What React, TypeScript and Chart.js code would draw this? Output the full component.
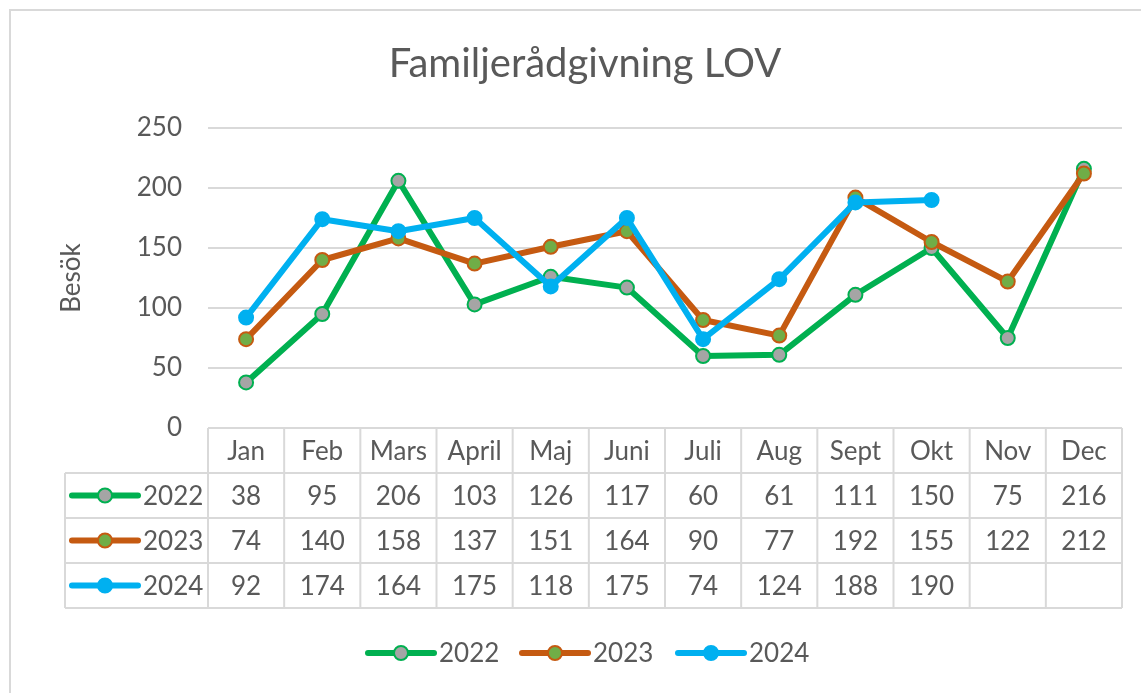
import React, { useEffect, useRef } from "react";
import { Chart, registerables } from "chart.js";

Chart.register(...registerables);

const months = ["Jan", "Feb", "Mars", "April", "Maj", "Juni", "Juli", "Aug", "Sept", "Okt", "Nov", "Dec"];
const seriesNames = ["2022", "2023", "2024"];
const values2022 = [38, 95, 206, 103, 126, 117, 60, 61, 111, 150, 75, 216];
const values2023 = [74, 140, 158, 137, 151, 164, 90, 77, 192, 155, 122, 212];
const values2024: (number | null)[] = [92, 174, 164, 175, 118, 175, 74, 124, 188, 190, null, null];
const yTickMin = 0;
const yTickMax = 250;
const yTickStep = 50;
const chartTitle = "Familjerådgivning LOV";
const yAxisTitle = "Besök";

const FONT = "Lato, 'Open Sans', 'Noto Sans', sans-serif";
const TEXT = "#595959";
const GRID = "#d9d9d9";
const lineColors = ["#00B050", "#C55A11", "#00B0F0"];
const markerFills = ["#A5A5A5", "#70AD47", "#00B0F0"];
const allValues = [values2022, values2023, values2024];

const ROW_H = 45;
const TABLE_LEFT = 65;

function drawKey(ctx: CanvasRenderingContext2D, x0: number, y: number, i: number) {
  ctx.save();
  ctx.strokeStyle = lineColors[i];
  ctx.lineWidth = 6;
  ctx.lineCap = "round";
  ctx.beginPath();
  ctx.moveTo(x0, y);
  ctx.lineTo(x0 + 66, y);
  ctx.stroke();
  ctx.beginPath();
  ctx.arc(x0 + 33, y, 7, 0, Math.PI * 2);
  ctx.fillStyle = markerFills[i];
  ctx.fill();
  ctx.lineWidth = 2;
  ctx.strokeStyle = lineColors[i];
  ctx.stroke();
  ctx.restore();
}

const tablePlugin = {
  id: "tablePlugin",
  afterDraw(chart: any) {
    const ctx: CanvasRenderingContext2D = chart.ctx;
    const area = chart.chartArea;
    const xs = chart.scales.x;
    const colW = xs.getPixelForValue(1) - xs.getPixelForValue(0);
    ctx.save();
    // outer border
    ctx.strokeStyle = GRID;
    ctx.lineWidth = 2;
    ctx.beginPath();
    ctx.moveTo(10, 2000);
    ctx.lineTo(10, 10);
    ctx.lineTo(2000, 10);
    ctx.stroke();

    // title
    ctx.fillStyle = TEXT;
    ctx.font = `40px ${FONT}`;
    ctx.textAlign = "center";
    ctx.textBaseline = "middle";
    ctx.fillText(chartTitle, 585, 64);

    // table lines
    const top = area.bottom;
    const left = area.left;
    const right = area.right;
    ctx.strokeStyle = GRID;
    ctx.lineWidth = 2;
    ctx.beginPath();
    ctx.moveTo(left, top);
    ctx.lineTo(right, top);
    for (let r = 1; r <= 4; r++) {
      ctx.moveTo(TABLE_LEFT, top + r * ROW_H);
      ctx.lineTo(right, top + r * ROW_H);
    }
    for (let c = 0; c <= months.length; c++) {
      const x = xs.getPixelForValue(0) - colW / 2 + c * colW;
      ctx.moveTo(x, top);
      ctx.lineTo(x, top + 4 * ROW_H);
    }
    ctx.moveTo(TABLE_LEFT, top + ROW_H);
    ctx.lineTo(TABLE_LEFT, top + 4 * ROW_H);
    ctx.stroke();

    ctx.font = `26px ${FONT}`;
    ctx.fillStyle = TEXT;
    ctx.textAlign = "center";
    ctx.textBaseline = "middle";
    months.forEach((m, c) => {
      ctx.fillText(m, xs.getPixelForValue(c), top + ROW_H / 2 + 1);
    });
    allValues.forEach((vals, r) => {
      const cy = top + (r + 1) * ROW_H + ROW_H / 2 + 1;
      vals.forEach((v, c) => {
        if (v !== null && v !== undefined) ctx.fillText(String(v), xs.getPixelForValue(c), cy);
      });
    });
    // row keys
    seriesNames.forEach((name, r) => {
      const cy = top + (r + 1) * ROW_H + ROW_H / 2;
      drawKey(ctx, 72, cy, r);
      ctx.fillStyle = TEXT;
      ctx.textAlign = "left";
      ctx.fillText(name, 143, cy + 1);
    });

    // bottom legend
    const legendX = [368, 522, 678];
    seriesNames.forEach((name, i) => {
      drawKey(ctx, legendX[i], 653, i);
      ctx.fillStyle = TEXT;
      ctx.textAlign = "left";
      ctx.fillText(name, legendX[i] + 71, 654);
    });
    ctx.restore();
  },
};

export default function App() {
  const ref = useRef<HTMLCanvasElement | null>(null);
  useEffect(() => {
    if (!ref.current) return;
    const chart = new Chart(ref.current, {
      type: "line",
      data: {
        labels: months,
        datasets: allValues.map((vals, i) => ({
          label: seriesNames[i],
          data: vals,
          borderColor: lineColors[i],
          backgroundColor: lineColors[i],
          borderWidth: 6,
          borderCapStyle: "round",
          borderJoinStyle: "round",
          pointRadius: 7,
          pointBorderWidth: 2,
          pointBackgroundColor: markerFills[i],
          pointBorderColor: lineColors[i],
          tension: 0,
          fill: false,
          order: 2 - i,
        })),
      },
      options: {
        responsive: false,
        animation: false,
        devicePixelRatio: 1,
        layout: { padding: { left: 0, right: 19, top: 128, bottom: 0 } },
        plugins: {
          legend: { display: false },
          title: { display: false },
          tooltip: { enabled: false },
        },
        scales: {
          x: {
            type: "category",
            offset: true,
            grid: { display: false },
            border: { display: false },
            ticks: { display: false },
            afterFit: (s: any) => {
              s.height = 265;
            },
          },
          y: {
            min: yTickMin,
            max: yTickMax,
            ticks: {
              stepSize: yTickStep,
              color: TEXT,
              font: { family: FONT, size: 26 },
              padding: 26,
            },
            grid: { color: GRID, lineWidth: 2, drawTicks: false },
            border: { display: false },
            title: {
              display: true,
              text: yAxisTitle,
              color: TEXT,
              font: { family: FONT, size: 26 },
              padding: { top: 56, bottom: 0 },
            },
            afterFit: (s: any) => {
              s.width = 208;
            },
          },
        },
      } as any,
      plugins: [tablePlugin],
    });
    let alive = true;
    (document as any).fonts?.ready?.then(() => {
      if (alive) chart.draw();
    });
    return () => {
      alive = false;
      chart.destroy();
    };
  }, []);
  return (
    <div style={{ position: "fixed", left: 0, top: 0, width: 1141, height: 693, background: "#fff" }}>
      <canvas ref={ref} width={1141} height={693} style={{ width: 1141, height: 693, display: "block" }} />
    </div>
  );
}
